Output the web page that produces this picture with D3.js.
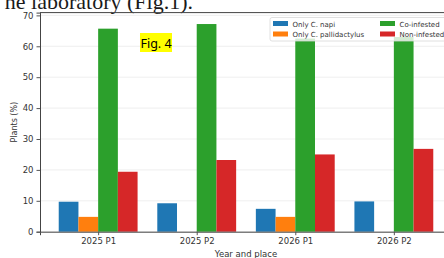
<!DOCTYPE html>
<html>
<head>
<meta charset="utf-8">
<script src="https://cdn.jsdelivr.net/npm/d3@7"></script>
<style>
  body { margin: 0; background: #fff; }
  svg { display: block; }
</style>
</head>
<body>
<script>
// Data
var categories = ["2025 P1", "2025 P2", "2026 P1", "2026 P2"];
var seriesNames = ["Only C. napi", "Only C. pallidactylus", "Co-infested", "Non-infested"];
var onlyNapi = [9.7, 9.2, 7.4, 9.8];
var onlyPalli = [4.8, 0, 4.8, 0];
var coInfested = [65.7, 67.2, 62.5, 63.0];
var nonInfested = [19.4, 23.2, 25.0, 26.8];
var yTicks = [0, 10, 20, 30, 40, 50, 60, 70];
var colors = ["#1f77b4", "#ff7f0e", "#2ca02c", "#d62728"];

var series = [onlyNapi, onlyPalli, coInfested, nonInfested];

var W = 444, H = 258;
var svg = d3.select("body").append("svg").attr("width", W).attr("height", H);

// Scales (matplotlib-like: bars width 0.2, margins around)
var x = d3.scaleLinear().domain([-0.59, 3.59]).range([40, 452]);
var y = d3.scaleLinear().domain([0, 70.9]).range([231.7, 12.6]);
var barW = 0.2;

// Cropped document text above the figure
svg.append("text")
    .attr("x", 193).attr("y", 9)
    .attr("text-anchor", "end")
    .style("font-family", "Liberation Serif")
    .style("font-size", "22px")
    .attr("fill", "#1a1a1a")
    .text("he laboratory (Fig.1).");

// Grid
svg.append("g")
    .selectAll("line")
    .data(yTicks)
    .enter()
    .append("line")
        .attr("x1", x(-0.59)).attr("x2", x(3.59))
        .attr("y1", d => y(d)).attr("y2", d => y(d))
        .attr("stroke", "#ebebeb")
        .attr("stroke-width", 0.8);

// Bars
series.forEach(function(vals, s) {
    svg.append("g")
        .selectAll("rect")
        .data(vals)
        .enter()
        .append("rect")
            .attr("x", (d, i) => x(i + (s - 1.5) * barW - barW / 2))
            .attr("width", x(barW) - x(0))
            .attr("y", d => y(d))
            .attr("height", d => y(0) - y(d))
            .attr("fill", colors[s]);
});

// Y axis
var yAxis = svg.append("g")
    .attr("transform", "translate(" + x(-0.59) + ",0)")
    .call(d3.axisLeft(y).tickValues(yTicks).tickSize(3.5).tickPadding(3));

// X axis
var xAxis = svg.append("g")
    .attr("transform", "translate(0," + y(0) + ")")
    .call(d3.axisBottom(x).tickValues([0, 1, 2, 3]).tickFormat(i => categories[i]).tickSize(3.5).tickPadding(3));

[yAxis, xAxis].forEach(function(a) {
    a.select(".domain").attr("stroke", "#444").attr("stroke-width", 1);
    a.selectAll(".tick line").attr("stroke", "#555");
    a.selectAll(".tick text")
        .attr("fill", "#333")
        .style("font-family", "DejaVu Sans")
        .style("font-size", "8.5px");
});

// Top spine
svg.append("line")
    .attr("x1", x(-0.59)).attr("x2", x(3.59))
    .attr("y1", y(70.9)).attr("y2", y(70.9))
    .attr("stroke", "#444").attr("stroke-width", 1);

// Axis labels
svg.append("text")
    .attr("transform", "translate(17," + ((y(0) + y(70.9)) / 2) + ") rotate(-90)")
    .attr("text-anchor", "middle")
    .style("font-family", "DejaVu Sans")
    .style("font-size", "8px")
    .attr("fill", "#333")
    .text("Plants (%)");

svg.append("text")
    .attr("x", (x(-0.59) + x(3.59)) / 2).attr("y", 257)
    .attr("text-anchor", "middle")
    .style("font-family", "DejaVu Sans")
    .style("font-size", "8.5px")
    .attr("fill", "#333")
    .text("Year and place");

// Legend (2 columns, semi-transparent frame)
var legend = svg.append("g").attr("transform", "translate(270,17.5)");
legend.append("rect")
    .attr("width", 190).attr("height", 23.5)
    .attr("rx", 2)
    .attr("fill", "#fff").attr("fill-opacity", 0.8)
    .attr("stroke", "#d8d8d8").attr("stroke-width", 0.8);

var legendItems = legend.selectAll("g.item")
    .data(seriesNames)
    .enter()
    .append("g")
        .attr("class", "item")
        .attr("transform", (d, i) => "translate(" + (3 + Math.floor(i / 2) * 107) + "," + (3 + (i % 2) * 10.5) + ")");
legendItems.append("rect")
    .attr("width", 15).attr("height", 5)
    .attr("y", 0.5)
    .attr("fill", (d, i) => colors[i]);
legendItems.append("text")
    .attr("x", 19.5).attr("y", 6)
    .style("font-family", "DejaVu Sans")
    .style("font-size", "7px")
    .attr("fill", "#333")
    .text(d => d);

// Highlighted figure tag
var tag = svg.append("g").attr("transform", "translate(140,33)");
tag.append("rect")
    .attr("width", 32).attr("height", 19)
    .attr("fill", "#ffff00");
tag.append("text")
    .attr("x", 16).attr("y", 14.5)
    .attr("text-anchor", "middle")
    .style("font-family", "Noto Sans")
    .style("font-size", "12.5px")
    .attr("fill", "#000")
    .text("Fig. 4");
</script>
</body>
</html>
